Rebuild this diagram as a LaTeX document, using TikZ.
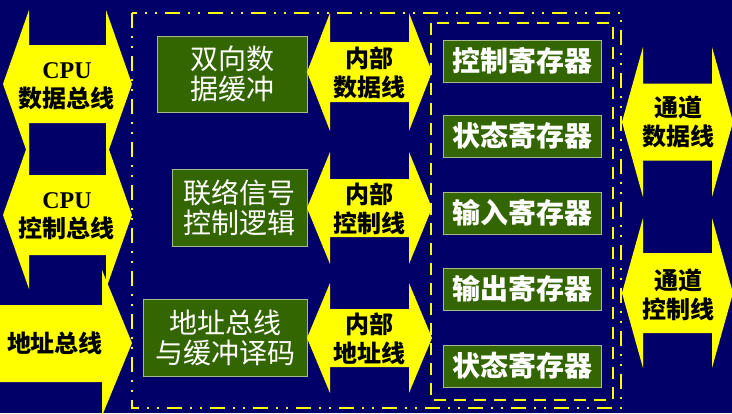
\documentclass[tikz,border=0pt]{standalone}
\usepackage{fontspec}
\newfontfamily\cjk{Noto Sans CJK SC}
\newfontfamily\latinserif{Liberation Serif}
\usetikzlibrary{positioning}

\definecolor{Cnavy}{RGB}{0,0,104}
\definecolor{Cyel}{RGB}{255,255,0}
\definecolor{Cbox}{RGB}{51,102,0}
\definecolor{Cline}{RGB}{170,185,140}

% left tip x, right tip x, centre y, half shaft, half head, head length
\newcommand{\dblarrow}[6]{%
  \fill[arrowfill] (#1,#3) -- ++(#6,-#5) -- ++(0,#5-#4) -- (#2-#6,#3-#4)
    -- ++(0,#4-#5) -- (#2,#3) -- ++(-#6,#5) -- ++(0,#4-#5)
    -- (#1+#6,#3+#4) -- ++(0,#5-#4) -- cycle;}

\begin{document}
\begin{tikzpicture}[x=1pt, y=-1pt,
  % ---- styles ----
  midbox/.style={%
    draw=Cline, line width=0.8pt, fill=Cbox, text=white, align=center,
    font=\cjk\fontsize{28}{30}\selectfont, inner sep=0pt, outer sep=0pt,
  },
  regbox/.style={%
    draw=Cline, line width=0.8pt, fill=Cbox, text=white,
    minimum width=158pt, minimum height=42pt,
    font=\cjk\bfseries\fontsize{28}{30}\selectfont, inner sep=0pt, outer sep=0pt,
  },
  arrowtext/.style={font=\cjk\bfseries\fontsize{24}{29}\selectfont, align=center,
    text=black, inner sep=0pt},
  arrowfill/.style={fill=Cyel},
  outerframe/.style={draw=Cyel, line width=2pt,
    dash pattern=on 15pt off 8pt on 2pt off 8pt on 2pt off 8pt},
  innerframe/.style={draw=Cyel, line width=2pt, dash pattern=on 12pt off 8pt},
]

% ---- background ----
\useasboundingbox (0,0) rectangle (732,413);
\fill[Cnavy] (0,0) rectangle (732,413);

% =========================================================
% frames
% =========================================================
\draw[outerframe] (132,13) rectangle (621,408);
\draw[innerframe] (431,23) rectangle (613,400);

% =========================================================
% CPU side  (left)
% =========================================================
\dblarrow{3}{132}{84}{39}{74}{26}
\dblarrow{3}{132}{215}{40}{74}{26}
\fill[arrowfill] (-2,305) -- (102,305) -- (102,270) -- (132,343)
  -- (102,416) -- (102,382) -- (-2,382) -- cycle;

\node[arrowtext] (cpudata) at (67,86)  {{\latinserif\bfseries CPU}\\数据总线};
\node[arrowtext] (cpuctrl) at (67,216) {{\latinserif\bfseries CPU}\\控制总线};
\node[arrowtext] (cpuaddr) at (55,343) {地址总线};

% =========================================================
% interface logic  (middle)
% =========================================================
\node[midbox, minimum width=150pt, minimum height=76pt] (buf)  at (232,74)    {双向数\\据缓冲};
\node[midbox, minimum width=135pt, minimum height=77pt] (link) at (239.5,207.5) {联络信号\\控制逻辑};
\node[midbox, minimum width=164pt, minimum height=77pt] (dec)  at (225,337.5) {地址总线\\与缓冲译码};

\dblarrow{307}{432}{72}{30}{59}{23}
\dblarrow{307}{432}{208}{29}{56}{23}
\dblarrow{307}{432}{338}{29}{55}{23}

\node[arrowtext] (indata) at (369,73)  {内部\\数据线};
\node[arrowtext] (inctrl) at (369,209) {内部\\控制线};
\node[arrowtext] (inaddr) at (369,339) {内部\\地址线};

% =========================================================
% registers
% =========================================================
\node[regbox] (r1) at (522,61) {控制寄存器};
\node[regbox, below=33pt of r1] (r2) {状态寄存器};
\node[regbox, below=35pt of r2] (r3) {输入寄存器};
\node[regbox, below=34pt of r3] (r4) {输出寄存器};
\node[regbox, below=35pt of r4] (r5) {状态寄存器};

% =========================================================
% channel side  (right)
% =========================================================
\dblarrow{622}{733}{122}{38.5}{75}{21}
\dblarrow{622}{733}{293}{40}{75}{21}

\node[arrowtext] (chdata) at (678,122) {通道\\数据线};
\node[arrowtext] (chctrl) at (678,295) {通道\\控制线};

\end{tikzpicture}
\end{document}
